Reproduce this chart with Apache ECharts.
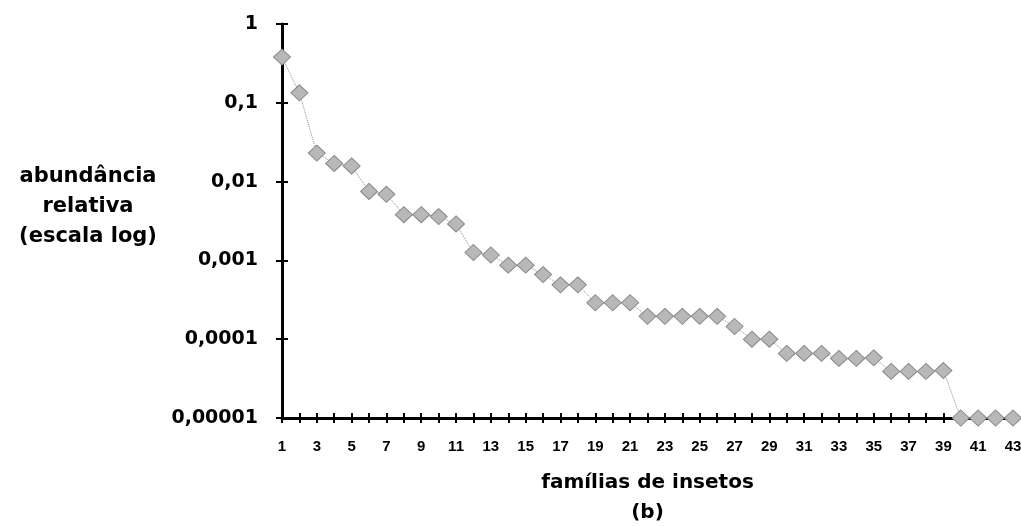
<!DOCTYPE html>
<html>
<head>
<meta charset="utf-8">
<script src="https://cdn.jsdelivr.net/npm/echarts@6/dist/echarts.min.js"></script>
<style>
  html, body { margin: 0; padding: 0; background: #fff; }
  #chart { width: 1021px; height: 526px; }
</style>
</head>
<body>
<div id="chart"></div>
<script>
// Insect families ranked by relative abundance (log scale)
const families = ['1','2','3','4','5','6','7','8','9','10','11','12','13','14','15','16','17','18','19','20','21','22','23','24','25','26','27','28','29','30','31','32','33','34','35','36','37','38','39','40','41','42','43'];
const abundance = [
  0.38, 0.134, 0.023, 0.017, 0.0158, 0.0075, 0.0069, 0.0038, 0.0038, 0.0036,
  0.0029, 0.00126, 0.00117, 0.00087, 0.00087, 0.00066, 0.00049, 0.00049, 0.00029, 0.00029,
  0.00029, 0.000195, 0.000195, 0.000195, 0.000195, 0.000195, 0.000145, 0.0001, 0.0001, 0.000066,
  0.000066, 0.000066, 0.000057, 0.000057, 0.000058, 0.000039, 0.000039, 0.000039, 0.00004, 0.00001,
  0.00001, 0.00001, 0.00001
];
const yTickLabels = { '1': '1', '0.1': '0,1', '0.01': '0,01', '0.001': '0,001', '0.0001': '0,0001', '0.00001': '0,00001' };

const boldFont = "'DejaVu Sans', 'Liberation Sans', sans-serif";
const narrowFont = "'Liberation Sans Narrow', 'Liberation Sans', Arial, sans-serif";

function fmtTick(v) {
  const exp = Math.round(Math.log10(v));
  const key = String(Math.pow(10, exp));
  return yTickLabels[key] !== undefined ? yTickLabels[key] : key.replace('.', ',');
}

const chart = echarts.init(document.getElementById('chart'), null, { renderer: 'canvas' });

chart.setOption({
  animation: false,
  backgroundColor: '#ffffff',
  grid: { left: 282, right: 8, top: 24, bottom: 108, containLabel: false, outerBoundsMode: 'none' },
  xAxis: [
    {
      type: 'category',
      data: families,
      boundaryGap: false,
      position: 'bottom',
      axisLine: { show: true, lineStyle: { color: '#000', width: 3 } },
      axisTick: { show: true, interval: 0, length: 5, lineStyle: { color: '#000', width: 2 } },
      axisLabel: {
        interval: 1, margin: 21, color: '#000',
        fontFamily: narrowFont, fontWeight: 'bold', fontSize: 15
      },
      splitLine: { show: false },
      name: 'famílias de insetos\n(b)',
      nameLocation: 'middle',
      nameGap: 50,
      nameTextStyle: {
        color: '#000', fontFamily: boldFont, fontWeight: 'bold', fontSize: 20,
        lineHeight: 30, verticalAlign: 'top'
      }
    },
    {
      // second copy of the category axis, carrying only the inner half of each tick
      type: 'category',
      data: families,
      boundaryGap: false,
      position: 'bottom',
      axisLine: { show: false },
      axisTick: { show: true, inside: true, interval: 0, length: 5, lineStyle: { color: '#000', width: 2 } },
      axisLabel: { show: false },
      splitLine: { show: false }
    }
  ],
  yAxis: [
    {
      type: 'log',
      logBase: 10,
      min: 0.00001,
      max: 1,
      position: 'left',
      axisLine: { show: true, lineStyle: { color: '#000', width: 3 } },
      axisTick: { show: true, length: 6, lineStyle: { color: '#000', width: 2 } },
      axisLabel: {
        margin: 24, color: '#000', formatter: fmtTick,
        fontFamily: boldFont, fontWeight: 'bold', fontSize: 19
      },
      splitLine: { show: false },
      minorTick: { show: false }
    },
    {
      type: 'log',
      logBase: 10,
      min: 0.00001,
      max: 1,
      position: 'left',
      axisLine: { show: false },
      axisTick: { show: true, inside: true, length: 6, lineStyle: { color: '#000', width: 2 } },
      axisLabel: { show: false },
      splitLine: { show: false }
    }
  ],
  graphic: [
    {
      type: 'text',
      x: 88, y: 207,
      style: {
        text: 'abundância\nrelativa\n(escala log)',
        fill: '#000',
        font: "bold 21px 'DejaVu Sans', 'Liberation Sans', sans-serif",
        lineHeight: 30,
        align: 'center',
        verticalAlign: 'middle'
      }
    }
  ],
  series: [
    {
      type: 'line',
      xAxisIndex: 0,
      yAxisIndex: 0,
      data: abundance,
      symbol: 'diamond',
      symbolSize: [17, 16],
      showAllSymbol: true,
      lineStyle: { color: '#8c8c8c', width: 1, type: 'dotted' },
      itemStyle: { color: '#b8b8b8', borderColor: '#8a8a8a', borderWidth: 1 },
      z: 5
    }
  ]
});
</script>
</body>
</html>
